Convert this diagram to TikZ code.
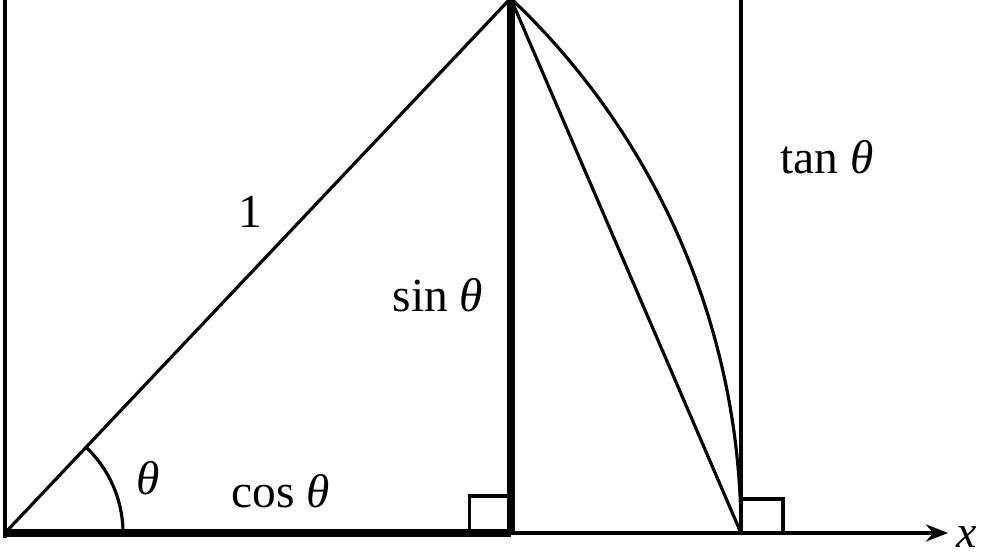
\documentclass[tikz,border=0pt]{standalone}
\usepackage{fontspec}
\setmainfont{Liberation Serif}
\usetikzlibrary{arrows.meta,positioning,calc}

\begin{document}
\begin{tikzpicture}[
      >={Stealth[length=0.22cm,width=0.17cm]},
      fina/.style={line width=0.9pt},
      grossa/.style={line width=2.3pt},
      rotulo/.style={font=\fontsize{13.5}{15}\selectfont, inner sep=1pt}
  ]
      \useasboundingbox (-0.05,-0.22) rectangle (9.84,5.33);
      \def\raio{7.36}
      \def\ang{46.6}

      % Pontos
      \coordinate (O) at (0,0);
      \coordinate (P) at (\ang:\raio);
      \coordinate (Q) at (P |- O);
      \coordinate (A) at (\raio,0);
      \coordinate (T) at (\raio,5.33);
      \coordinate (Y) at (0,5.33);
      \coordinate (X) at (9.43,0);

      % Eixos
      \draw[fina] (0,-0.05) -- (Y);
      \draw[fina,->] (O) -- (X);
      \node[rotulo, inner sep=0pt, font=\fontsize{13}{15}\selectfont\itshape] (xlab) at (9.62,-0.04) {x};

      % Triangulo e arco
      \draw[grossa] (O) -- (Q);
      \draw[grossa] (Q) -- (P);
      \draw[fina] (O) -- (P);
      \draw[fina] (P) -- (A);
      \draw[fina] (P) arc[start angle=\ang, end angle=0, radius=\raio];
      \draw[fina] (A) -- (T);

      % Angulos retos
      \draw[fina] ($(Q)+(-0.41,0)$) rectangle ($(Q)+(0,0.37)$);
      \draw[fina] (A) rectangle ++(0.42,0.34);

      % Angulo theta
      \draw[fina] (1.18,0) arc[start angle=0, end angle=\ang, radius=1.18];

      % Rotulos
      \node[rotulo] (th) at (1.43,0.55) {\textit{θ}};
      \node[rotulo] (cos) at (2.76,0.42) {cos \textit{θ}};
      \node[rotulo] (um) at (2.45,3.21) {1};
      \node[rotulo] (sin) at (4.33,2.38) {sin \textit{θ}};
      \node[rotulo] (tan) at (8.22,3.76) {tan \textit{θ}};
  \end{tikzpicture}
\end{document}
